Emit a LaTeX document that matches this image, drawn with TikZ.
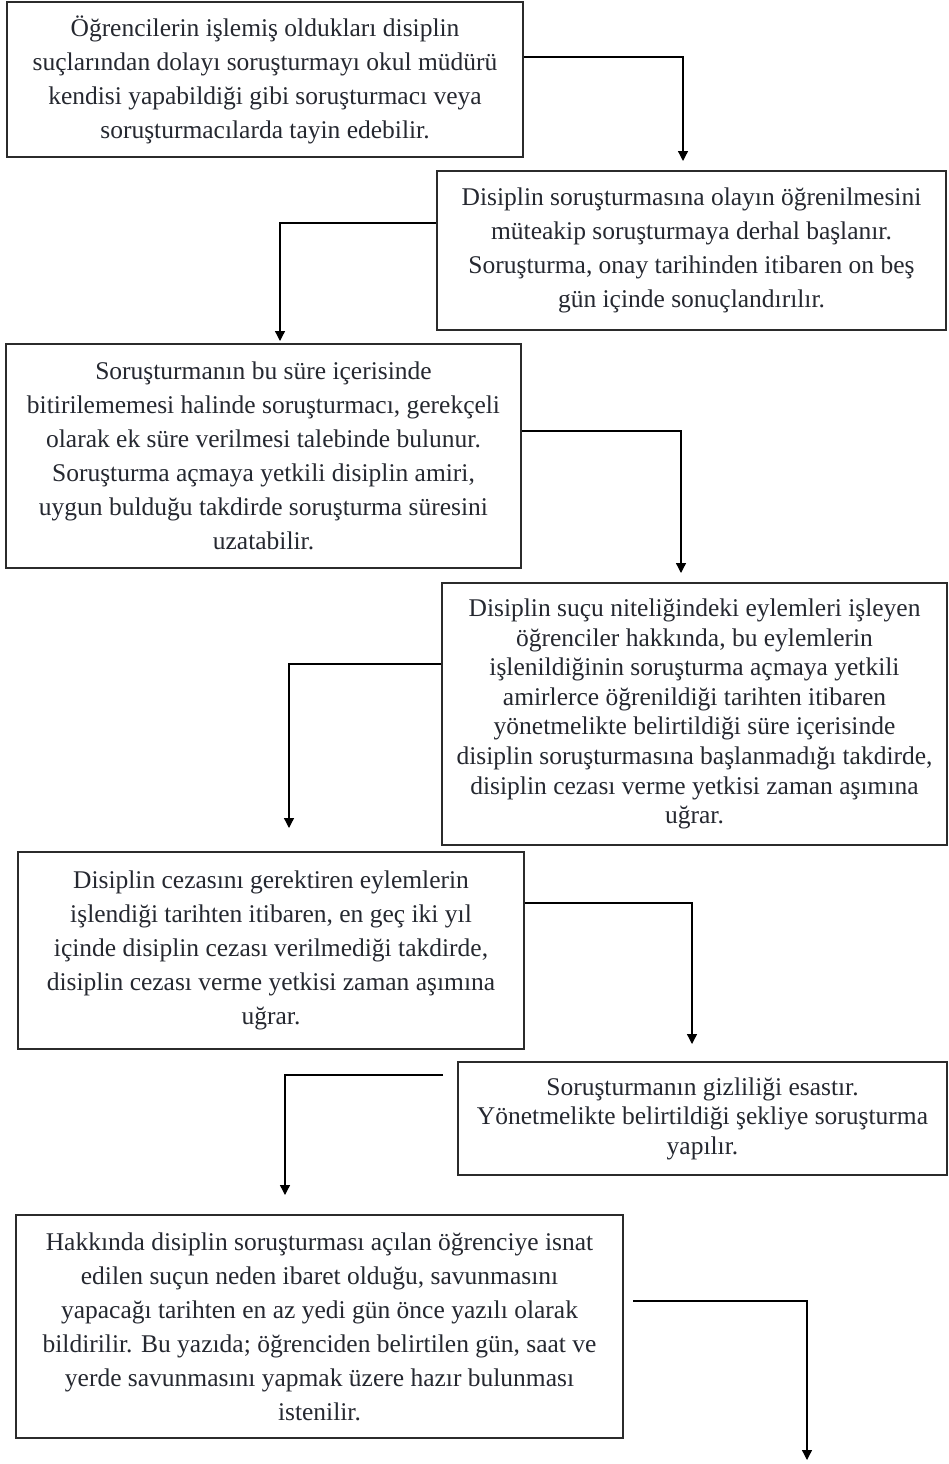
\documentclass[tikz,border=0pt]{standalone}
\usepackage{fontspec}
\setmainfont{Liberation Serif}
\usetikzlibrary{arrows.meta}
\definecolor{boxline}{HTML}{2B2B2B}
\definecolor{txt}{HTML}{252830}
\tikzset{
  stepbox/.style={draw=boxline, line width=1.6pt, rectangle, inner sep=0pt,
    align=center, text=txt, font=\fontsize{25.5}{34}\selectfont},
  tightbox/.style={stepbox, font=\fontsize{25.5}{29.6}\selectfont},
  conn/.style={draw=black, line width=1.3pt, -{Triangle[length=10pt,width=10pt]}},
}
\begin{document}
\begin{tikzpicture}[x=1pt,y=-1pt]
\useasboundingbox (0,0) rectangle (949,1464);

\node[stepbox, minimum width=516pt, minimum height=155pt] (b1) at (265,79.5)
 {Öğrencilerin işlemiş oldukları disiplin\\suçlarından dolayı soruşturmayı okul müdürü\\kendisi yapabildiği gibi soruşturmacı veya\\soruşturmacılarda tayin edebilir.};

\node[stepbox, minimum width=509pt, minimum height=159pt] (b2) at (691.5,250.5)
 {Disiplin soruşturmasına olayın öğrenilmesini\\müteakip soruşturmaya derhal başlanır.\\Soruşturma, onay tarihinden itibaren on beş\\gün içinde sonuçlandırılır.};

\node[stepbox, minimum width=515pt, minimum height=224pt] (b3) at (263.5,456)
 {Soruşturmanın bu süre içerisinde\\bitirilememesi halinde soruşturmacı, gerekçeli\\olarak ek süre verilmesi talebinde bulunur.\\Soruşturma açmaya yetkili disiplin amiri,\\uygun bulduğu takdirde soruşturma süresini\\uzatabilir.};

\node[tightbox, minimum width=505pt, minimum height=262pt] (b4) at (694.5,714)
 {Disiplin suçu niteliğindeki eylemleri işleyen\\öğrenciler hakkında, bu eylemlerin\\işlenildiğinin soruşturma açmaya yetkili\\amirlerce öğrenildiği tarihten itibaren\\yönetmelikte belirtildiği süre içerisinde\\disiplin soruşturmasına başlanmadığı takdirde,\\disiplin cezası verme yetkisi zaman aşımına\\uğrar.};

\node[stepbox, minimum width=506pt, minimum height=197pt] (b5) at (271,950.5)
 {Disiplin cezasını gerektiren eylemlerin\\işlendiği tarihten itibaren, en geç iki yıl\\içinde disiplin cezası verilmediği takdirde,\\disiplin cezası verme yetkisi zaman aşımına\\uğrar.};

\node[tightbox, minimum width=489pt, minimum height=113pt] (b6) at (702.5,1118.5)
 {Soruşturmanın gizliliği esastır.\\Yönetmelikte belirtildiği şekliye soruşturma\\yapılır.};

\node[stepbox, minimum width=607pt, minimum height=223pt] (b7) at (319.5,1326.5)
 {Hakkında disiplin soruşturması açılan öğrenciye isnat\\edilen suçun neden ibaret olduğu, savunmasını\\yapacağı tarihten en az yedi gün önce yazılı olarak\\bildirilir. Bu yazıda; öğrenciden belirtilen gün, saat ve\\yerde savunmasını yapmak üzere hazır bulunması\\istenilir.};

\coordinate (t1) at (683,161);
\coordinate (t2) at (280,341);
\coordinate (t3) at (681,573);
\coordinate (t4) at (289,828);
\coordinate (t5) at (692,1044);
\coordinate (s6) at (443,1075);
\coordinate (t6) at (285,1195);
\coordinate (s7) at (633,1301);
\coordinate (t7) at (807,1460);

\draw[conn] ([yshift=22.5pt]b1.east) -| (t1);
\draw[conn] ([yshift=27.5pt]b2.west) -| (t2);
\draw[conn] ([yshift=25pt]b3.east) -| (t3);
\draw[conn] ([yshift=50pt]b4.west) -| (t4);
\draw[conn] ([yshift=47.5pt]b5.east) -| (t5);
\draw[conn] (s6) -| (t6);
\draw[conn] (s7) -| (t7);
\end{tikzpicture}
\end{document}
